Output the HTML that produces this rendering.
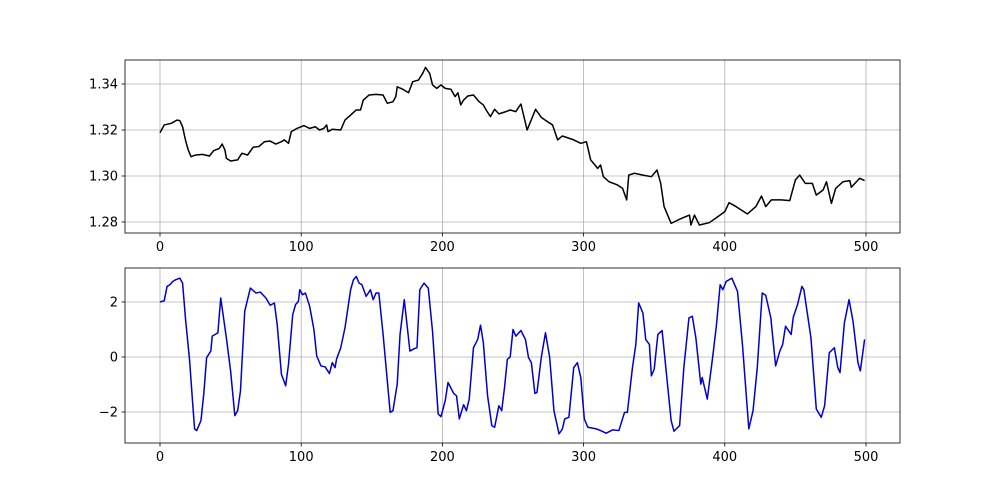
<!DOCTYPE html>
<html><head><meta charset="utf-8"><style>body{margin:0;background:#fff}svg{display:block}text{font-family:"DejaVu Sans","Liberation Sans",sans-serif;font-size:13px;fill:#000}</style></head>
<body>
<svg id="fig" width="1000" height="498" xmlns="http://www.w3.org/2000/svg">
<rect width="1000" height="498" fill="#fff"/>
<g id="top"></g>
<g id="bot"></g>
</svg>
<script>
const xTicks=[0,100,200,300,400,500];
const topYTicks=[1.28,1.30,1.32,1.34];
const topYLabels=["1.28","1.30","1.32","1.34"];
const botYTicks=[-2,0,2];
const botYLabels=["\u22122","0","2"];
const priceX=[0,3,8,12,14,16,18,20,22,25,30,35,38,42,44,46,47,50,55,58,62,66,70,74,78,82,86,88,91,93,97,102,106,110,113,116,118,119,122,128,131,135,139,142,144,148,153,158,161,165,167,168,172,176,179,183,186,188,191,193,196,199,202,206,209,211,213,215,218,222,226,229,231,234,237,240,245,248,252,255.6,260,266,270,274.5,278,281.6,285,293,298,302,305,310,312,314,318,324,327.6,330.5,332,336,342,348,352,354.6,357,360,362,368,375,376,378.5,382,389,395,400,403,408,416,422,426,429,433,440,446,450,453,457,462,464.8,469.6,472,475.5,478.5,483.7,488.5,489.6,495.5,499];
const priceYz=[218,195,190,180,182,200,240,270,290,285,283,288,272,265,252,270,295,303,300,280,285,262,260,245,243,252,245,240,250,215,205,197,205,200,210,205,195,215,208,210,180,165,150,150,120,105,103,105,130,125,110,80,88,98,65,60,40,22,40,75,85,75,85,88,110,98,135,120,108,105,125,135,150,170,148,162,155,150,155,132,210,148,172,185,195,240,228,240,250,245,300,325,315,350,365,375,385,420,345,340,345,350,330,370,440,470,490,478,465,495,465,495,488,470,455,428,440,462,440,408,440,420,420,422,360,345,370,370,405,390,365,430,385,365,362,382,355,362];
const priceVals=priceYz.map(z=>+(1.34-(z-72)*0.02/138).toFixed(4));
const oscX=[0,3,5,7,9,11,14,16,18,21,23,24.5,26,29,31,33,36,37,39,41,43,47,50,53,55,57,60,64,68,71,75,78,81,83,86,89,91,94,96,98,99,101,103,106,109,111,114,117,120,122,124,125,128,131,135,137,139,141,143,146,149,151,153,155,158,163,165,168,170,173,177,180,182,184,187,190,193,197,199,202,204,208,210,212,215,217,219,222,225,227,229,232,235,237,240,242,244,246,248,250,252,255.6,258.8,261,263,265.5,267,270,273,276,279,282.6,285,286.6,289.6,293,295.6,298,300.5,303,309,312,316,320.5,325,329,331,334.6,337,339,342,344,346.6,348,350,352.6,355.6,358,362,364,368,371,374.6,377,379.5,383,384,387.6,391.5,394,396.7,398.6,401,405,409,412.5,417,420,423,426.5,429,432.6,436,439,441,443,447,448.5,451.5,454.6,456,461,464.8,468.3,470.7,474,477.6,480,481.6,484.7,488,490.8,494.3,496,499];
const oscYz=[102,98,55,50,40,35,30,45,150,280,400,485,490,460,380,270,250,205,200,195,90,210,310,445,430,370,130,60,75,72,90,112,105,170,320,355,290,140,110,100,65,80,75,115,185,265,295,298,318,285,300,275,240,180,65,35,25,45,50,85,65,95,75,75,200,435,430,350,200,95,250,243,240,65,45,60,190,440,448,400,345,378,385,455,412,430,395,240,215,172,225,385,475,480,415,430,360,275,268,185,205,188,215,270,285,378,375,270,195,270,430,500,485,455,450,300,285,330,455,480,485,490,498,488,490,435,435,300,230,105,135,215,230,325,305,200,188,290,460,492,475,300,150,145,210,350,330,395,265,175,50,65,40,30,70,230,485,430,300,75,82,150,295,250,230,175,200,148,110,55,65,210,425,450,415,255,240,300,315,165,95,160,285,310,215];
const oscVals=oscYz.map(z=>+((268-z)/83).toFixed(3));

const NS="http://www.w3.org/2000/svg";
function mk(tag,attrs,parent){const e=document.createElementNS(NS,tag);for(const k in attrs)e.setAttribute(k,attrs[k]);parent.appendChild(e);return e;}
const xScale=v=>160+v*706/500;

function panel(g,top,bottom,yScale,yTicks,yLabels,xs,vals,color,prefix){
  // grid
  xTicks.forEach(t=>{const l=mk('line',{x1:xScale(t),x2:xScale(t),y1:top,y2:bottom,stroke:'#b0b0b0','stroke-width':0.8},g);
    
    });
  yTicks.forEach(t=>{const l=mk('line',{x1:125,x2:900,y1:yScale(t),y2:yScale(t),stroke:'#b0b0b0','stroke-width':0.8},g);
    
    });
  // series
  const d=xs.map((x,i)=>(i?'L':'M')+xScale(x).toFixed(2)+','+yScale(vals[i]).toFixed(2)).join('');
  const p=mk('path',{d:d,fill:'none',stroke:color,'stroke-width':1.5,'stroke-linejoin':'round'},g);
  
  
  // frame
  const r=mk('rect',{x:125,y:top,width:775,height:bottom-top,fill:'none',stroke:'#000','stroke-width':0.8},g);
  
  
  xTicks.forEach(t=>{const x=xScale(t);
    const tk=mk('line',{x1:x,x2:x,y1:bottom,y2:bottom+3.5,stroke:'#000','stroke-width':0.8},g);
    
    
    const tx=mk('text',{x:x,y:bottom+18,'text-anchor':'middle'},g);tx.textContent=String(t);
    
    });
  yTicks.forEach((t,i)=>{const y=yScale(t);
    const tk=mk('line',{x1:121.5,x2:125,y1:y,y2:y,stroke:'#000','stroke-width':0.8},g);
    
    
    const tx=mk('text',{x:118,y:y+4.5,'text-anchor':'end'},g);tx.textContent=yLabels[i];
    
    });
}
panel(document.getElementById('top'),60,233,v=>84+(1.34-v)*2300,topYTicks,topYLabels,priceX,priceVals,'#000','price');
panel(document.getElementById('bot'),268,443,v=>357-v*27.5,botYTicks,botYLabels,oscX,oscVals,'#0000cc','oscillator');
</script>
</body></html>
